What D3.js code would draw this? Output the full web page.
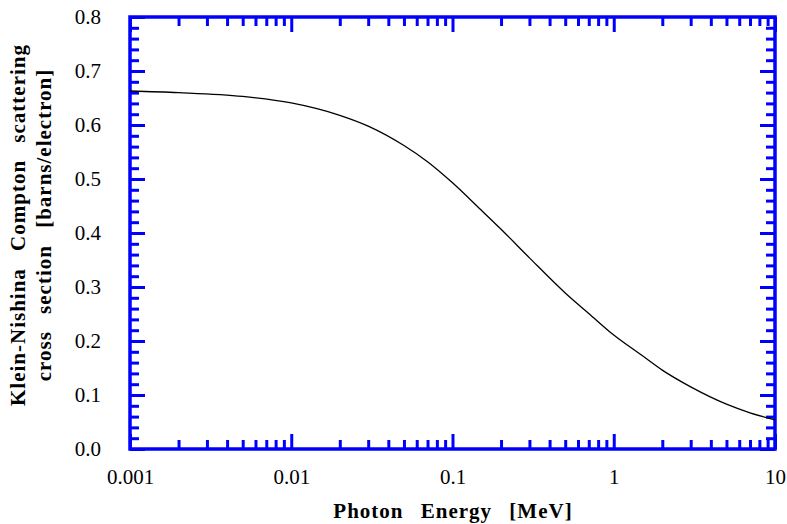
<!DOCTYPE html>
<html>
<head>
<meta charset="utf-8">
<script src="https://cdn.jsdelivr.net/npm/d3@7"></script>
<style>
  body { margin: 0; background: #fff; }
  svg { display: block; }
  text { font-family: "Liberation Serif", "Times New Roman", serif; fill: #000; }
</style>
</head>
<body>
<div id="chart"></div>
<script>
// photon energy [MeV] and Klein-Nishina cross section [barns/electron]
const energies = [0.001, 0.002, 0.005, 0.01, 0.02, 0.03, 0.05, 0.07, 0.1, 0.15, 0.2, 0.3, 0.5, 0.7, 1, 1.5, 2, 3, 5, 7, 10];
const crossSection = [0.663, 0.660, 0.653, 0.641, 0.618, 0.598, 0.562, 0.532, 0.493, 0.443, 0.407, 0.354, 0.289, 0.251, 0.211, 0.173, 0.146, 0.115, 0.083, 0.067, 0.054];

const xTickValues = [0.001, 0.01, 0.1, 1, 10];
const xTickLabels = ["0.001", "0.01", "0.1", "1", "10"];
const yTickValues = [0, 0.1, 0.2, 0.3, 0.4, 0.5, 0.6, 0.7, 0.8];
const yTickLabels = ["0.0", "0.1", "0.2", "0.3", "0.4", "0.5", "0.6", "0.7", "0.8"];

const xTitle = "Photon Energy [MeV]";
const yTitleLines = ["Klein-Nishina Compton scattering", "cross section [barns/electron]"];

const width = 787, height = 524;
const margin = {top: 17, right: 12, bottom: 75, left: 130};
const blue = "#0000ff";

const x = d3.scaleLog()
    .domain([0.001, 10])
    .range([margin.left, width - margin.right]);

const y = d3.scaleLinear()
    .domain([0, 0.8])
    .range([height - margin.bottom, margin.top]);

const svg = d3.select("#chart")
    .append("svg")
    .attr("width", width)
    .attr("height", height);

const xMinor = x.ticks().filter(d => !xTickValues.includes(d));
const yMinor = y.ticks(40).filter(d => Math.round(d * 1000) % 100 !== 0);

function styleAxis(g) {
    g.select(".domain").remove();
    g.selectAll(".tick line").attr("stroke", blue).attr("stroke-width", 3);
}

// bottom + top ticks
[["bottom", height - margin.bottom], ["top", margin.top]].forEach(([side, pos]) => {
    const make = side === "bottom" ? d3.axisBottom : d3.axisTop;
    svg.append("g")
        .attr("transform", `translate(0,${pos})`)
        .call(make(x).tickValues(xMinor).tickSize(-9).tickFormat(""))
        .call(styleAxis);
    svg.append("g")
        .attr("transform", `translate(0,${pos})`)
        .call(make(x).tickValues(xTickValues).tickSize(-15).tickFormat(""))
        .call(styleAxis);
});

// left + right ticks
[["left", margin.left], ["right", width - margin.right]].forEach(([side, pos]) => {
    const make = side === "left" ? d3.axisLeft : d3.axisRight;
    svg.append("g")
        .attr("transform", `translate(${pos},0)`)
        .call(make(y).tickValues(yMinor).tickSize(-9).tickFormat(""))
        .call(styleAxis);
    svg.append("g")
        .attr("transform", `translate(${pos},0)`)
        .call(make(y).tickValues(yTickValues).tickSize(-15).tickFormat(""))
        .call(styleAxis);
});

// tick labels
svg.append("g")
    .attr("transform", `translate(0,${height - margin.bottom})`)
    .call(d3.axisBottom(x).tickValues(xTickValues).tickSize(0).tickPadding(20)
        .tickFormat((d, i) => xTickLabels[i]))
    .call(g => g.select(".domain").remove())
    .call(g => g.selectAll("text").style("font-size", "21px")
        .style("font-family", "'Liberation Serif', 'Times New Roman', serif"));

svg.append("g")
    .attr("transform", `translate(${margin.left},0)`)
    .call(d3.axisLeft(y).tickValues(yTickValues).tickSize(0).tickPadding(29)
        .tickFormat((d, i) => yTickLabels[i]))
    .call(g => g.select(".domain").remove())
    .call(g => g.selectAll("text").style("font-size", "21px")
        .style("font-family", "'Liberation Serif', 'Times New Roman', serif"));

// frame
svg.append("rect")
    .attr("x", margin.left)
    .attr("y", margin.top)
    .attr("width", width - margin.left - margin.right)
    .attr("height", height - margin.top - margin.bottom)
    .attr("fill", "none")
    .attr("stroke", blue)
    .attr("stroke-width", 3.5);

// curve
const line = d3.line()
    .x((d, i) => x(energies[i]))
    .y(d => y(d))
    .curve(d3.curveMonotoneX);

svg.append("path")
    .datum(crossSection)
    .attr("d", line)
    .attr("fill", "none")
    .attr("stroke", "#000")
    .attr("stroke-width", 1.3);

// axis titles
svg.append("text")
    .attr("x", 453)
    .attr("y", 518)
    .attr("text-anchor", "middle")
    .style("font-size", "21px")
    .style("font-weight", "bold")
    .style("letter-spacing", "1px")
    .style("word-spacing", "11px")
    .text(xTitle);

const yTitle = svg.append("text")
    .attr("transform", "rotate(-90)")
    .attr("text-anchor", "middle")
    .style("font-size", "21px")
    .style("font-weight", "bold")
    .style("letter-spacing", "1px")
    .style("word-spacing", "11px");

yTitle.append("tspan")
    .attr("x", -225)
    .attr("y", 25)
    .text(yTitleLines[0]);

yTitle.append("tspan")
    .attr("x", -225)
    .attr("y", 51)
    .text(yTitleLines[1]);
</script>
</body>
</html>
